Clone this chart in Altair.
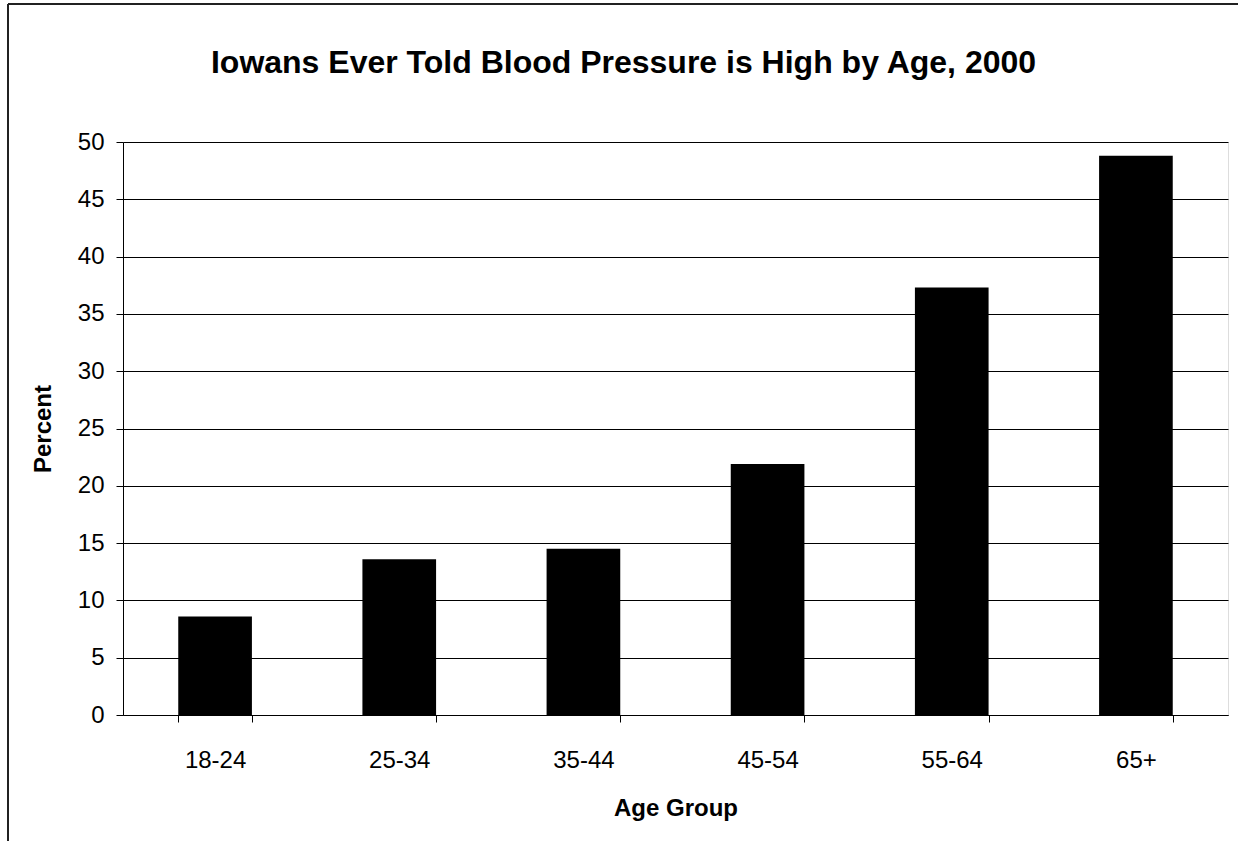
import altair as alt
import pandas as pd

age_groups = ["18-24", "25-34", "35-44", "45-54", "55-64", "65+"]
percent = [8.6, 13.6, 14.5, 21.9, 37.3, 48.8]
y_ticks = [0, 5, 10, 15, 20, 25, 30, 35, 40, 45, 50]

df = pd.DataFrame({"Age Group": age_groups, "Percent": percent})

FONT = "Liberation Sans"
W, H = 1105, 573

bars = alt.Chart(df).mark_bar(color="black").encode(
    x=alt.X(
        "Age Group:N",
        sort=age_groups,
        scale=alt.Scale(paddingInner=0.6, paddingOuter=0.3),
        axis=alt.Axis(
            title="Age Group",
            labelAngle=0,
            labelFontSize=24,
            labelFont=FONT,
            labelColor="black",
            labelPadding=26,
            titleFontSize=24,
            titleFont=FONT,
            titleFontWeight="bold",
            titleColor="black",
            titlePadding=24,
            tickBand="extent",
            tickSize=7,
            tickColor="black",
            domainColor="black",
            grid=False,
        ),
    ),
    y=alt.Y(
        "Percent:Q",
        scale=alt.Scale(domain=[0, 50], nice=False),
        axis=alt.Axis(
            title="Percent",
            values=y_ticks,
            labelFontSize=24,
            labelFont=FONT,
            labelColor="black",
            labelPadding=12,
            titleFontSize=24,
            titleFont=FONT,
            titleFontWeight="bold",
            titleColor="black",
            titlePadding=22,
            tickSize=7,
            tickColor="black",
            domainColor="black",
            grid=True,
            gridColor="black",
            gridWidth=1,
        ),
    ),
)

frame_left = alt.Chart(df).mark_rule(color="#222222", strokeWidth=1.5).encode(
    x=alt.value(-115), y=alt.value(-138), y2=alt.value(H + 126)
)
frame_top = alt.Chart(df).mark_rule(color="#222222", strokeWidth=1.5).encode(
    x=alt.value(-115), x2=alt.value(W + 10), y=alt.value(-138)
)

chart = alt.layer(bars, frame_left, frame_top).properties(
    width=W,
    height=H,
    title=alt.TitleParams(
        "Iowans Ever Told Blood Pressure is High by Age, 2000",
        font=FONT,
        fontSize=32,
        fontWeight="bold",
        color="black",
        anchor="middle",
        dx=-52,
        offset=-77,
    ),
    autosize=alt.AutoSizeParams(type="none"),
    padding={"left": 123, "top": 142, "right": 10, "bottom": 126},
).configure_view(stroke="#808080", strokeWidth=1.5).configure(background="white")

chart.save("out.html", embed_options={"renderer": "svg", "actions": False})
